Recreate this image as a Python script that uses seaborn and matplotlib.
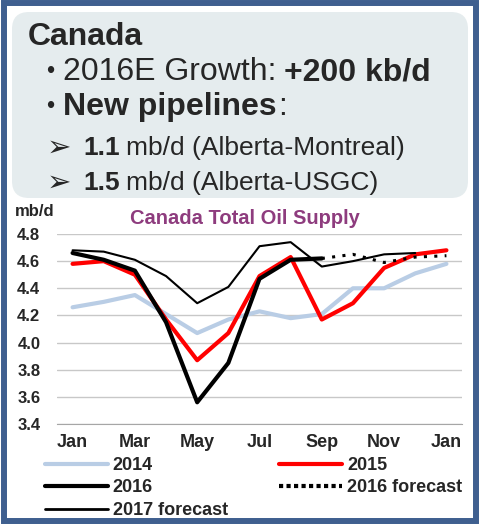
import numpy as np
import seaborn as sns
import matplotlib.pyplot as plt
from matplotlib.patches import FancyBboxPatch, Rectangle
from matplotlib.lines import Line2D

# monthly supply, mb/d (x index 0..12 = Jan..Dec, Jan)
months = ["Jan", "Feb", "Mar", "Apr", "May", "Jun", "Jul", "Aug", "Sep", "Oct", "Nov", "Dec", "Jan"]
s2014 = [4.26, 4.30, 4.35, 4.21, 4.07, 4.17, 4.23, 4.18, 4.21, 4.40, 4.40, 4.51, 4.58]
s2015 = [4.58, 4.60, 4.50, 4.17, 3.87, 4.07, 4.49, 4.63, 4.17, 4.29, 4.55, 4.65, 4.68]
s2016 = [4.66, 4.61, 4.53, 4.15, 3.56, 3.85, 4.47, 4.61, 4.62]          # Jan..Sep
s2016_fc = [4.62, 4.65, 4.59, 4.63, 4.64]                                # Sep..Jan
s2017_fc = [4.68, 4.67, 4.61, 4.49, 4.29, 4.41, 4.71, 4.74, 4.56, 4.60, 4.65, 4.66]  # Jan..Dec
yticks = [3.4, 3.6, 3.8, 4.0, 4.2, 4.4, 4.6, 4.8]

sns.set_style("white")
plt.rcParams['font.family'] = ['Liberation Sans', 'DejaVu Sans']

W, H = 479, 526
fig = plt.figure(figsize=(W / 100, H / 100), dpi=100)

# outer frame and rounded text box
fig.patches.append(Rectangle((0.04, 0.05), 4.715, 5.18, transform=fig.dpi_scale_trans,
                             fill=False, edgecolor="#3F5F8F", linewidth=4.3))
fig.patches.append(FancyBboxPatch((0.12, 3.28), 4.56, 1.86, transform=fig.dpi_scale_trans,
                                  boxstyle="round,pad=0,rounding_size=0.17",
                                  facecolor="#E5ECEE", edgecolor="none"))

ax = fig.add_axes([57 / W, (H - 424) / H, 405 / W, 190 / H])

x_all = list(range(13))
sns.lineplot(x=x_all, y=s2014, ax=ax, color="#B9CDE5", linewidth=3)
sns.lineplot(x=x_all, y=s2015, ax=ax, color="#FF0000", linewidth=3)
sns.lineplot(x=x_all[:9], y=s2016, ax=ax, color="black", linewidth=3)
sns.lineplot(x=x_all[8:], y=s2016_fc, ax=ax, color="black", linewidth=2.2)
ax.lines[-1].set_linestyle((0, (1, 2.4)))
sns.lineplot(x=x_all[:12], y=s2017_fc, ax=ax, color="black", linewidth=1.5)

ax.set_xlim(-0.5, 12.5)
ax.set_ylim(3.4, 4.8)
ax.set_yticks(yticks)
ax.set_yticklabels([f"{v:.1f}" for v in yticks], fontsize=12, fontweight="bold")
ax.yaxis.grid(True, color="#C8C8C8", linewidth=1)
ax.tick_params(axis="y", length=0, pad=12)
ax.set_xticks(np.arange(-0.5, 13, 1))
ax.set_xticklabels([])
ax.set_xticks(range(0, 13, 2), minor=True)
ax.set_xticklabels(months[::2], minor=True, fontsize=13, fontweight="bold")
ax.tick_params(axis="x", which="major", length=4, color="#A6A6A6", width=1, direction="out")
ax.tick_params(axis="x", which="minor", length=0, pad=7)
for s in ["top", "left", "right"]:
    ax.spines[s].set_visible(False)
ax.spines["bottom"].set_color("#A6A6A6")
ax.set_xlabel("")
ax.set_ylabel("")

fig.text(15 / W, 1 - 212 / H, "mb/d", fontsize=12, fontweight="bold", va="center")
fig.text(245 / W, 1 - 218 / H, "Canada Total Oil Supply", fontsize=14.5, fontweight="bold",
         color="#8E3C7E", ha="center", va="center")

# header text
renderer = fig.canvas.get_renderer()


def rich_line(parts, x0, y, size):
    x = x0
    for txt, weight, gap, fs in parts:
        t = fig.text(x / W, 1 - y / H, txt, fontsize=fs or size, fontweight=weight,
                     va="center", ha="left")
        bb = t.get_window_extent(renderer)
        x = bb.x1 + gap


fig.text(28 / W, 1 - 37 / H, "Canada", fontsize=23, fontweight="bold", va="center")
rich_line([("•", "normal", 9, 17), ("2016E Growth:", "normal", 7, None),
           ("+200 kb/d", "bold", 0, None)], 46, 72, 23)
rich_line([("•", "normal", 9, 17), ("New pipelines", "bold", 1, None),
           (":", "normal", 0, None)], 46, 107, 23)
rich_line([("➢", "normal", 12, 21), ("1.1", "bold", 6, None),
           ("mb/d (Alberta-Montreal)", "normal", 0, None)], 47, 148, 19)
rich_line([("➢", "normal", 12, 21), ("1.5", "bold", 6, None),
           ("mb/d (Alberta-USGC)", "normal", 0, None)], 47, 183, 19)

# legend
handles = [
    Line2D([], [], color="#B9CDE5", linewidth=3),
    Line2D([], [], color="black", linewidth=3),
    Line2D([], [], color="black", linewidth=2),
    Line2D([], [], color="#FF0000", linewidth=3),
    Line2D([], [], color="black", linewidth=3, linestyle=(0, (1, 0.8))),
]
labels = ["2014", "2016", "2017 forecast", "2015", "2016 forecast"]
fig.legend(handles, labels, ncol=2, loc="upper left", bbox_to_anchor=(45 / W, 1 - 457 / H),
           frameon=False, handlelength=3.5, handletextpad=0.25, columnspacing=2.85,
           labelspacing=0.3, borderpad=0, borderaxespad=0,
           prop={"size": 13, "weight": "bold"})

fig.savefig("out.png", dpi=100)
